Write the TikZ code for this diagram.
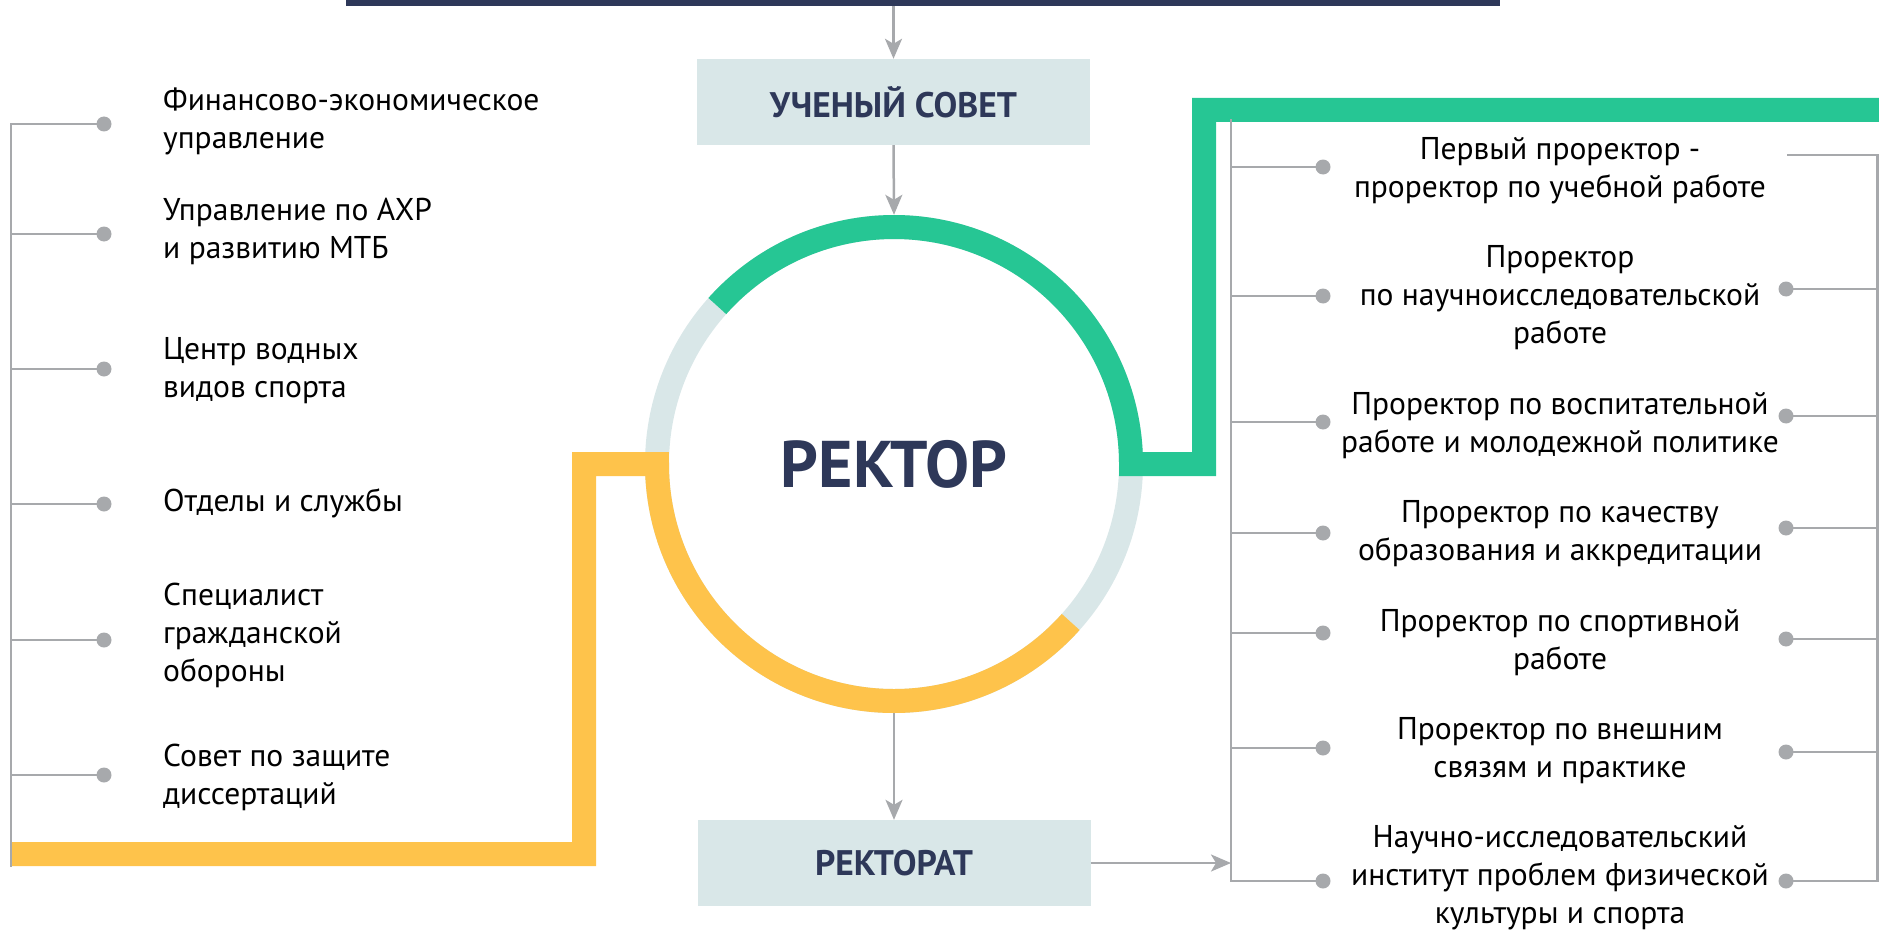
\documentclass[tikz,border=0pt]{standalone}
\usepackage{fontspec}
\setmainfont{PT Sans}
\usetikzlibrary{arrows.meta}

\definecolor{navy}{HTML}{2E3859}
\definecolor{boxfill}{HTML}{D9E7E8}
\definecolor{ringgray}{HTML}{D9E7E8}
\definecolor{linegray}{HTML}{A7A9AC}
\definecolor{bandgreen}{HTML}{26C694}
\definecolor{bandyellow}{HTML}{FEC34B}

\tikzset{
  conn/.style={linegray, line width=2.5pt, line cap=rect},
  arr/.style={linegray, line width=2.5pt, -{Stealth[length=20pt, width=17pt, inset=5pt]}},
  bullet/.style={circle, fill=linegray, inner sep=0pt, minimum size=15pt},
  band/.style={line width=24pt},
  headbox/.style={fill=boxfill, text=navy, minimum width=393pt, minimum height=86pt, inner sep=0pt, font=\bfseries\fontsize{35.5}{40}\selectfont},
  lefttext/.style={anchor=west, align=left, inner sep=0pt, font=\fontsize{31.5}{38}\selectfont},
  righttext/.style={align=center, inner sep=0pt, font=\fontsize{31.5}{38}\selectfont},
}

\begin{document}
\begin{tikzpicture}[x=1pt, y=-1pt]
\useasboundingbox (0,0) rectangle (1879,931);

%top bar and the council box
\node (topbar) [fill=navy, minimum width=1154pt, minimum height=12pt, inner sep=0pt] at (923,0) {};
\node (council) [headbox] at (893.5,102) {УЧЕНЫЙ СОВЕТ};

%ring round the rector
\draw[ringgray, band] (894,464) circle[radius=237pt];
\node (rector) [circle, minimum size=498pt, inner sep=0pt, text=navy, font=\bfseries\fontsize{66}{70}\selectfont] at (894,464) {РЕКТОР};

%green band to the vice-rectors
\coordinate (gcorner) at (1204,464);
\coordinate (gtop) at (1204,110);
\coordinate (gend) at (1879,110);
\draw[bandgreen, band] ([shift={(138.2:237pt)}]rector.center) arc[start angle=138.2, end angle=0, radius=237pt] -- (gcorner) -- (gtop) -- (gend);

%yellow band to the departments
\coordinate (ystart) at (12,854);
\coordinate (ycorner) at (584,854);
\coordinate (ytop) at (584,464);
\draw[bandyellow, band] (ystart) -- (ycorner) -- (ytop) -- ([shift={(180:237pt)}]rector.center) arc[start angle=180, end angle=318.2, radius=237pt];

\node (rectorate) [headbox] at (894,863) {РЕКТОРАТ};

%arrows
\draw[arr] (council.north |- topbar.south) -- (council.north);
\draw[arr] (council.south) -- (rector.north);
\draw[arr] (rector.south) -- (rectorate.north);

%left column
\coordinate (ltop) at (11,124);
\coordinate (lbot) at (11,866);
\draw[conn] (ltop) -- (lbot);
\foreach \y/\ty/\txt [count=\i] in {
  124/121/{Финансово-экономическое\\управление},
  234/231/{Управление по АХР\\и развитию МТБ},
  369/371/{Центр водных\\видов спорта},
  504/503/{Отделы и службы},
  640/635/{Специалист\\гражданской\\обороны},
  775/777/{Совет по защите\\диссертаций}} {
  \node (ldot\i) [bullet] at (104,\y) {};
  \draw[conn] (ldot\i) -- (ldot\i -| ltop);
  \node (ltext\i) [lefttext] at (163,\ty) {\txt};
}

%right column
\coordinate (rtop) at (1231,120);
\coordinate (rbot) at (1231,881);
\coordinate (qtop) at (1877.5,155);
\coordinate (qbot) at (1877.5,881);
\draw[conn] (rtop) -- (rbot);
\draw[conn] (qtop) -- (qbot);
\draw[arr] (rectorate.east) -- (rectorate.east -| rtop);
\foreach \y/\ty/\txt [count=\i] in {
  167/171/{Первый проректор -\\проректор по учебной работе},
  296/298/{Проректор\\по научноисследовательской\\работе},
  422/426/{Проректор по воспитательной\\работе и молодежной политике},
  533/534/{Проректор по качеству\\образования и аккредитации},
  633/643/{Проректор по спортивной\\работе},
  748/751/{Проректор по внешним\\связям и практике},
  881/878/{Научно-исследовательский\\институт проблем физической\\культуры и спорта}} {
  \node (rdot\i) [bullet] at (1323,\y) {};
  \draw[conn] (rdot\i) -- (rdot\i -| rtop);
  \node (rtext\i) [righttext] at (1560,\ty) {\txt};
}
\coordinate (send1) at (1788,155);
\draw[conn] (send1) -- (qtop);
\foreach \y [count=\i from 2] in {289,416,528,639,752,881} {
  \node (sdot\i) [bullet] at (1786,\y) {};
  \draw[conn] (sdot\i) -- (sdot\i -| qtop);
}

\end{tikzpicture}
\end{document}
